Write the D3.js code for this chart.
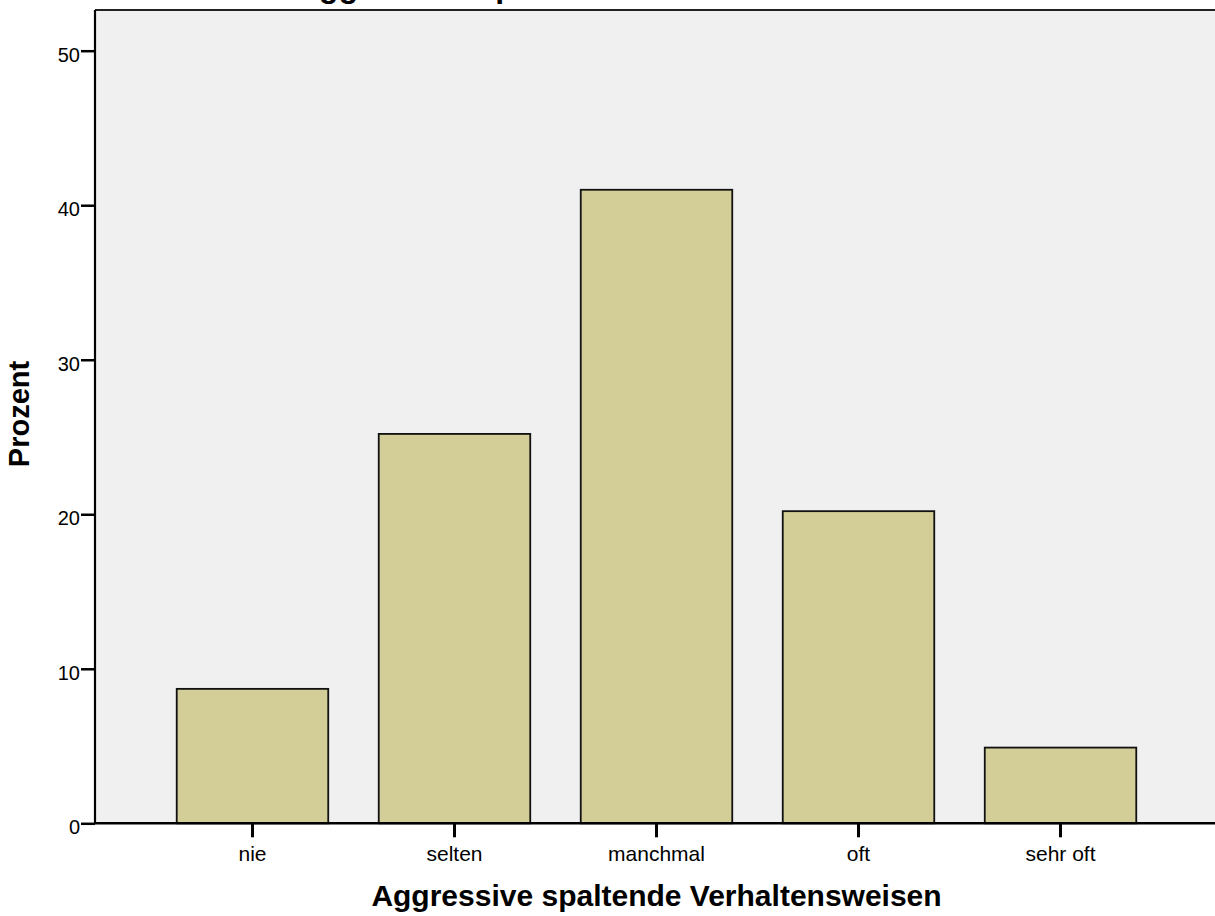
<!DOCTYPE html>
<html>
<head>
<meta charset="utf-8">
<script src="https://cdn.jsdelivr.net/npm/d3@7"></script>
<style>
  html, body { margin: 0; padding: 0; background: #ffffff; }
  svg { display: block; font-family: "Liberation Sans", Arial, sans-serif; }
</style>
</head>
<body>
<svg id="chart" width="1215" height="916"></svg>
<script>
const categories = ["nie", "selten", "manchmal", "oft", "sehr oft"];
const values = [8.7, 25.2, 41.0, 20.2, 4.9];
const yTicks = [0, 10, 20, 30, 40, 50];
const titleText = "Aggressive spaltende Verhaltensweisen";
const xTitle = "Aggressive spaltende Verhaltensweisen";
const yTitle = "Prozent";

(function () {
const svg = d3.select("#chart");
const pLeft = 95, pRight = 1218, pTop = 10, pBottom = 823.3;

const x = d3.scaleBand().domain(categories).range([pLeft, pRight])
  .paddingInner(0.25).paddingOuter(0.4046);
const y = d3.scaleLinear().domain([0, 50]).range([pBottom, 50.7]);

// title (mostly cut off at top)
svg.append("text").attr("x", 296).attr("y", -3)
  .attr("font-size", 32).attr("font-weight", "bold").attr("fill", "#000")
  .text(titleText);

// plot background
svg.append("rect").attr("x", pLeft).attr("y", pTop)
  .attr("width", pRight - pLeft).attr("height", pBottom - pTop)
  .attr("fill", "#f0f0f0");
svg.append("line").attr("x1", pLeft).attr("x2", pRight).attr("y1", pTop).attr("y2", pTop)
  .attr("stroke", "#222").attr("stroke-width", 2);

// bars
svg.append("g").selectAll("rect").data(categories).join("rect")
  .attr("x", d => x(d))
  .attr("y", (d, i) => y(values[i]))
  .attr("width", x.bandwidth())
  .attr("height", (d, i) => pBottom - y(values[i]))
  .attr("fill", "#d3ce97")
  .attr("stroke", "#111")
  .attr("stroke-width", 1.8);

// y axis
const yAxis = d3.axisLeft(y).tickValues(yTicks).tickSize(14).tickPadding(1).tickFormat(d3.format("d"));
const gy = svg.append("g").attr("transform", `translate(${pLeft},0)`).call(yAxis);
gy.select(".domain").attr("stroke", "#000").attr("stroke-width", 2.2)
  .attr("d", `M0,${pTop}V${pBottom}`);
gy.selectAll(".tick line").attr("stroke", "#000").attr("stroke-width", 2.5);
gy.selectAll(".tick text").attr("font-size", 20).attr("fill", "#000")
  .attr("font-family", "'Liberation Sans', Arial, sans-serif")
  .attr("dy", null).attr("y", 10.5);

// x axis
const xAxis = d3.axisBottom(x).tickSize(14).tickPadding(8);
const gx = svg.append("g").attr("transform", `translate(0,${pBottom})`).call(xAxis);
gx.select(".domain").attr("stroke", "#000").attr("stroke-width", 2.5)
  .attr("d", `M${pLeft},0H${pRight}`);
gx.selectAll(".tick line").attr("stroke", "#000").attr("stroke-width", 3);
gx.selectAll(".tick text").attr("font-size", 21).attr("fill", "#000")
  .attr("font-family", "'Liberation Sans', Arial, sans-serif")
  .attr("dy", null).attr("y", 38);

// axis titles
svg.append("text").attr("x", (pLeft + pRight) / 2).attr("y", 906)
  .attr("text-anchor", "middle").attr("font-size", 30).attr("font-weight", "bold")
  .text(xTitle);
svg.append("text").attr("transform", "translate(29,414) rotate(-90)")
  .attr("text-anchor", "middle").attr("font-size", 29).attr("font-weight", "bold")
  .text(yTitle);
})();
</script>
</body>
</html>
